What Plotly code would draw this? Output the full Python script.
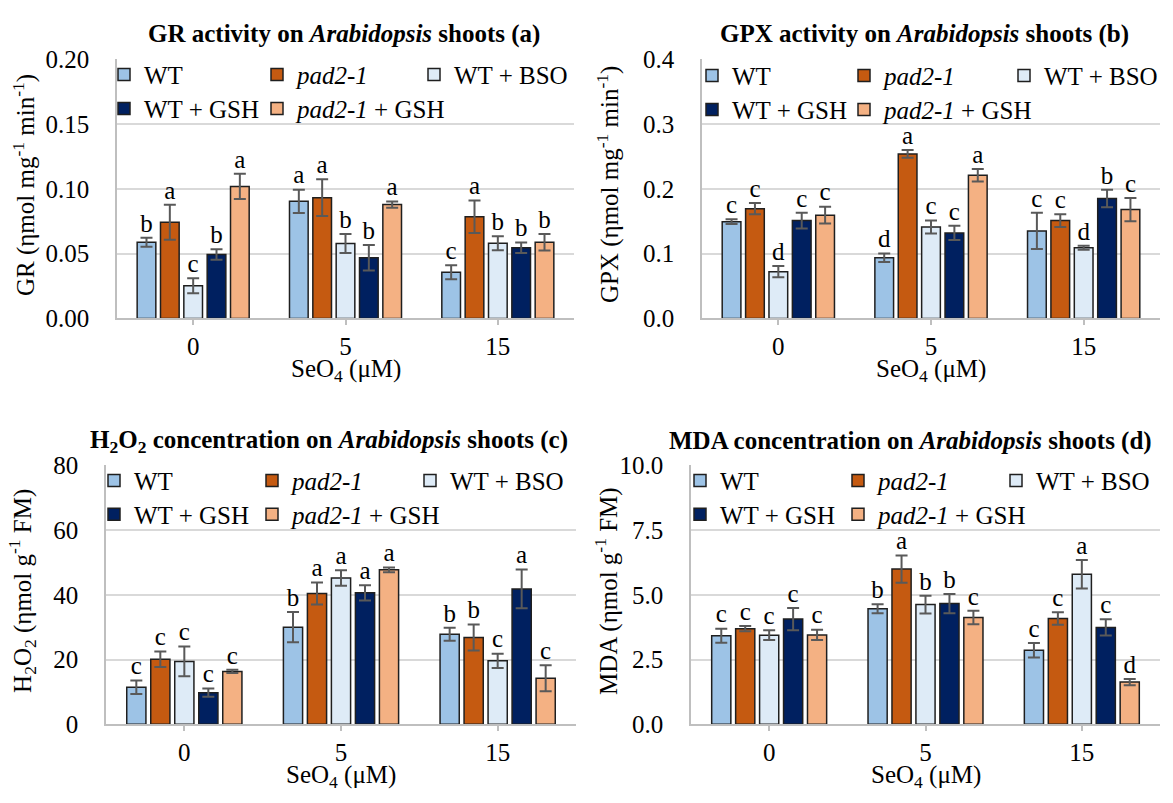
import plotly.graph_objects as go

# ---------------- data ----------------
doses = ["0", "5", "15"]
treatments = ["WT", "pad2-1", "WT + BSO", "WT + GSH", "pad2-1 + GSH"]
legend_labels = ["WT", "<i>pad2-1</i>", "WT + BSO", "WT + GSH", "<i>pad2-1</i> + GSH"]
colors = ["#9DC3E6", "#C55A11", "#DEEBF7", "#002060", "#F4B183"]

# GR activity (a)
gr_mean = {
    "WT": [0.0588, 0.0904, 0.0356],
    "pad2-1": [0.0742, 0.0932, 0.0785],
    "WT + BSO": [0.0252, 0.0578, 0.0580],
    "WT + GSH": [0.0493, 0.0468, 0.0545],
    "pad2-1 + GSH": [0.1019, 0.0879, 0.0588],
}
gr_err = {
    "WT": [0.0034, 0.0090, 0.0054],
    "pad2-1": [0.0135, 0.0142, 0.0125],
    "WT + BSO": [0.0057, 0.0073, 0.0054],
    "WT + GSH": [0.0040, 0.0098, 0.0041],
    "pad2-1 + GSH": [0.0097, 0.0024, 0.0064],
}
gr_letters = {
    "WT": ["b", "a", "c"],
    "pad2-1": ["a", "a", "a"],
    "WT + BSO": ["c", "b", "b"],
    "WT + GSH": ["b", "b", "b"],
    "pad2-1 + GSH": ["a", "a", "b"],
}

# GPX activity (b)
gpx_mean = {
    "WT": [0.1494, 0.0936, 0.135],
    "pad2-1": [0.1694, 0.254, 0.151],
    "WT + BSO": [0.0722, 0.141, 0.109],
    "WT + GSH": [0.151, 0.132, 0.185],
    "pad2-1 + GSH": [0.1594, 0.221, 0.168],
}
gpx_err = {
    "WT": [0.0037, 0.0065, 0.028],
    "pad2-1": [0.0087, 0.006, 0.0097],
    "WT + BSO": [0.0087, 0.010, 0.003],
    "WT + GSH": [0.012, 0.011, 0.0135],
    "pad2-1 + GSH": [0.013, 0.0097, 0.018],
}
gpx_letters = {
    "WT": ["c", "d", "c"],
    "pad2-1": ["c", "a", "c"],
    "WT + BSO": ["d", "c", "d"],
    "WT + GSH": ["c", "c", "b"],
    "pad2-1 + GSH": ["c", "a", "c"],
}

# H2O2 concentration (c)
h2o2_mean = {
    "WT": [11.45, 30.0, 27.8],
    "pad2-1": [20.1, 40.4, 26.8],
    "WT + BSO": [19.4, 45.2, 19.6],
    "WT + GSH": [9.76, 40.6, 41.8],
    "pad2-1 + GSH": [16.3, 47.7, 14.2],
}
h2o2_err = {
    "WT": [2.1, 4.7, 2.0],
    "pad2-1": [2.4, 3.4, 4.0],
    "WT + BSO": [4.6, 2.4, 2.2],
    "WT + GSH": [1.3, 2.35, 6.0],
    "pad2-1 + GSH": [0.5, 0.75, 4.0],
}
h2o2_letters = {
    "WT": ["c", "b", "b"],
    "pad2-1": ["c", "a", "b"],
    "WT + BSO": ["c", "a", "c"],
    "WT + GSH": ["c", "a", "a"],
    "pad2-1 + GSH": ["c", "a", "c"],
}

# MDA concentration (d)
mda_mean = {
    "WT": [3.42, 4.46, 2.86],
    "pad2-1": [3.69, 5.99, 4.08],
    "WT + BSO": [3.44, 4.62, 5.79],
    "WT + GSH": [4.06, 4.66, 3.74],
    "pad2-1 + GSH": [3.45, 4.12, 1.63],
}
mda_err = {
    "WT": [0.27, 0.17, 0.28],
    "pad2-1": [0.10, 0.53, 0.24],
    "WT + BSO": [0.19, 0.34, 0.55],
    "WT + GSH": [0.43, 0.37, 0.31],
    "pad2-1 + GSH": [0.20, 0.26, 0.12],
}
mda_letters = {
    "WT": ["c", "b", "c"],
    "pad2-1": ["c", "a", "c"],
    "WT + BSO": ["c", "b", "a"],
    "WT + GSH": ["c", "b", "c"],
    "pad2-1 + GSH": ["c", "c", "d"],
}

# ---------------- layout helpers ----------------
W, H = 1173, 803
FONT = "Liberation Serif"
FS = 25

# legend grid: (column, row) of each treatment
legend_cells = [(0, 0), (1, 0), (2, 0), (0, 1), (1, 1)]


def px_x(x):
    return x / W


def px_y(y):
    return 1 - y / H


panels = [
    dict(mean=gr_mean, err=gr_err, letters=gr_letters,
         title="<b>GR activity on <i>Arabidopsis</i> shoots (a)</b>",
         ytitle="GR (ηmol mg<sup>-1</sup> min<sup>-1</sup>)",
         xdom=(117, 574), ydom=(48, 316), yrange=(0, 0.2), dtick=0.05, fmt=".2f",
         title_xy=(344, 22), ytitle_x=24, xtitle_y=370,
         legend_cols=(122, 275, 432), legend_rows=(64, 99)),
    dict(mean=gpx_mean, err=gpx_err, letters=gpx_letters,
         title="<b>GPX activity on <i>Arabidopsis</i> shoots (b)</b>",
         ytitle="GPX (ηmol mg<sup>-1</sup> min<sup>-1</sup>)",
         xdom=(702, 1160), ydom=(48, 316), yrange=(0, 0.4), dtick=0.1, fmt=".1f",
         title_xy=(924, 22), ytitle_x=608, xtitle_y=370,
         legend_cols=(710, 862, 1022), legend_rows=(65, 100)),
    dict(mean=h2o2_mean, err=h2o2_err, letters=h2o2_letters,
         title="<b>H<sub>2</sub>O<sub>2</sub> concentration on <i>Arabidopsis</i> shoots (c)</b>",
         ytitle="H<sub>2</sub>O<sub>2</sub> (ηmol g<sup>-1</sup> FM)",
         xdom=(106, 576), ydom=(468, 736), yrange=(0, 80), dtick=20, fmt="d",
         title_xy=(329, 443), ytitle_x=22, xtitle_y=790,
         legend_cols=(112, 270, 428), legend_rows=(484, 519)),
    dict(mean=mda_mean, err=mda_err, letters=mda_letters,
         title="<b>MDA concentration on <i>Arabidopsis</i> shoots (d)</b>",
         ytitle="MDA (ηmol g<sup>-1</sup> FM)",
         xdom=(691, 1160), ydom=(468, 736), yrange=(0, 10), dtick=2.5, fmt=".1f",
         title_xy=(910, 443), ytitle_x=607, xtitle_y=790,
         legend_cols=(698, 856, 1014), legend_rows=(484, 519)),
]

fig = go.Figure()
annotations = []
layout_extra = {}
legend_count = 0

for p_i, p in enumerate(panels):
    n = p_i + 1
    sfx = "" if n == 1 else str(n)
    xa, ya = "x" + sfx, "y" + sfx
    x0, x1 = p["xdom"]
    y0, y1 = p["ydom"]

    for t_i, tr in enumerate(treatments):
        legend_count += 1
        leg = "legend" if legend_count == 1 else "legend%d" % legend_count
        col, row = legend_cells[t_i]
        # the legend swatch sits ~14 px right of the legend's left edge
        layout_extra[leg] = dict(
            orientation="h",
            x=px_x(p["legend_cols"][col] - 18),
            y=px_y(p["legend_rows"][row]),
            xanchor="left", yanchor="middle", xref="paper", yref="paper",
            bgcolor="rgba(0,0,0,0)",
            font=dict(family=FONT, size=FS, color="black"),
            itemclick=False, itemdoubleclick=False,
        )
        fig.add_trace(go.Bar(
            x=doses, y=p["mean"][tr], name=legend_labels[t_i],
            xaxis=xa, yaxis=ya, offsetgroup=tr, alignmentgroup="g",
            marker=dict(color=colors[t_i], line=dict(color="#1F1F1F", width=1.5)),
            error_y=dict(type="data", array=p["err"][tr], visible=True,
                         color="#595959", thickness=2, width=6),
            legend=leg, showlegend=True,
        ))
    # significance letters above each error bar
    for t_i, tr in enumerate(treatments):
        tops = [m + e for m, e in zip(p["mean"][tr], p["err"][tr])]
        fig.add_trace(go.Scatter(
            x=doses, y=tops, mode="text", text=p["letters"][tr],
            textposition="top center", xaxis=xa, yaxis=ya,
            offsetgroup=tr, alignmentgroup="g",
            textfont=dict(family=FONT, size=FS, color="black"),
            cliponaxis=False, showlegend=False, hoverinfo="skip",
        ))

    layout_extra["xaxis" + sfx] = dict(
        domain=[px_x(x0), px_x(x1)], anchor=ya, type="category",
        showline=True, linecolor="#BFBFBF", linewidth=1.5,
        ticks="outside", ticklen=5, tickcolor="#BFBFBF", tickwidth=1.5,
        ticklabelstandoff=0,
        tickfont=dict(family=FONT, size=FS, color="black"),
        showgrid=False, zeroline=False, fixedrange=True,
    )
    layout_extra["yaxis" + sfx] = dict(
        domain=[px_y(y1), px_y(y0)], anchor=xa, range=list(p["yrange"]),
        dtick=p["dtick"], tick0=0, tickformat=p["fmt"],
        showline=True, linecolor="#BFBFBF", linewidth=1.5,
        showgrid=True, gridcolor="#D9D9D9", gridwidth=1.5,
        zeroline=False, ticks="", ticklabelstandoff=21,
        tickfont=dict(family=FONT, size=FS, color="black"),
        fixedrange=True,
    )

    tx, ty = p["title_xy"]
    annotations.append(dict(
        text=p["title"], x=px_x(tx), y=px_y(ty), xref="paper", yref="paper",
        xanchor="center", yanchor="middle", showarrow=False,
        font=dict(family=FONT, size=FS, color="black"),
    ))
    annotations.append(dict(
        text=p["ytitle"], x=px_x(p["ytitle_x"]), y=px_y((y0 + y1) / 2 - 4),
        xref="paper", yref="paper", xanchor="center", yanchor="middle",
        textangle=-90, showarrow=False,
        font=dict(family=FONT, size=FS, color="black"),
    ))
    annotations.append(dict(
        text="SeO<sub>4</sub> (μM)", x=px_x((x0 + x1) / 2), y=px_y(p["xtitle_y"]),
        xref="paper", yref="paper", xanchor="center", yanchor="middle",
        showarrow=False, font=dict(family=FONT, size=FS, color="black"),
    ))

fig.update_layout(
    width=W, height=H, margin=dict(l=0, r=0, t=0, b=0),
    paper_bgcolor="white", plot_bgcolor="white",
    barmode="group", bargap=0.234, bargroupgap=0.2,
    scattermode="group", scattergap=0.234,
    font=dict(family=FONT, size=FS, color="black"),
    annotations=annotations,
    **layout_extra,
)

fig.write_html("out.html")
